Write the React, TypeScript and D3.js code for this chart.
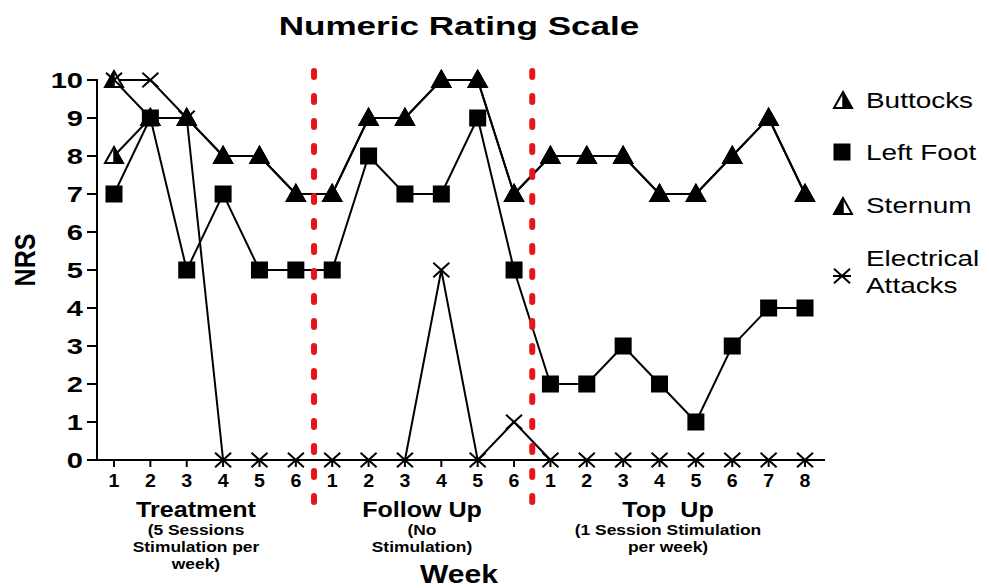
import React from "react";
import * as d3 from "d3";

const weekLabels = ["1","2","3","4","5","6","1","2","3","4","5","6","1","2","3","4","5","6","7","8"];
const buttocks = [8,9,9,8,8,7, 7,9,9,10,10,7, 8,8,8,7,7,8,9,7];
const sternum = [10,9,9,8,8,7, 7,9,9,10,10,7, 8,8,8,7,7,8,9,7];
const leftFoot = [7,9,5,7,5,5, 5,8,7,7,9,5, 2,2,3,2,1,3,4,4];
const electrical = [10,10,9,0,0,0, 0,0,0,5,0,1, 0,0,0,0,0,0,0,0];
const yTicks = [0,1,2,3,4,5,6,7,8,9,10];
const phaseBreaks = [5.5, 11.5];
const phaseTitles = ["Treatment", "Follow Up", "Top  Up"];
const phaseSubs = [["(5 Sessions", "Stimulation per", "week)"], ["(No", "Stimulation)"], ["(1 Session Stimulation", "per week)"]];
const legendNames = [["Buttocks"], ["Left Foot"], ["Sternum"], ["Electrical", "Attacks"]];

const FONT = "'Liberation Sans', Arial, Helvetica, sans-serif";

const x = d3.scaleLinear().domain([0, 19]).range([114, 805]);
const y = d3.scaleLinear().domain([0, 10]).range([460, 80]);

function T({ x, y, size, sx = 1.2, anchor = "middle", rotate = 0, weight = "bold", children }: any) {
  return (
    <text
      transform={`translate(${x},${y}) scale(${sx},1)${rotate ? ` rotate(${rotate})` : ""}`}
      fontFamily={FONT}
      fontWeight={weight}
      fontSize={size}
      textAnchor={anchor}
      fill="#000"
      style={{ whiteSpace: "pre" }}
    >
      {children}
    </text>
  );
}

const TW = 9, TTOP = -9, TBOT = 7;
function triFull(cx: number, cy: number) {
  return `${cx},${cy + TTOP} ${cx - TW},${cy + TBOT} ${cx + TW},${cy + TBOT}`;
}
function triHalf(cx: number, cy: number, half: "left" | "right") {
  return half === "right"
    ? `${cx},${cy + TTOP} ${cx},${cy + TBOT} ${cx + TW},${cy + TBOT}`
    : `${cx},${cy + TTOP} ${cx - TW},${cy + TBOT} ${cx},${cy + TBOT}`;
}
function TriBase({ cx, cy }: { cx: number; cy: number }) {
  return <polygon points={triFull(cx, cy)} fill="#fff" stroke="#000" strokeWidth={2} />;
}
function TriHalf({ cx, cy, half }: { cx: number; cy: number; half: "left" | "right" }) {
  return <polygon points={triHalf(cx, cy, half)} fill="#000" stroke="#000" strokeWidth={1.5} strokeLinejoin="round" />;
}

function Sq({ cx, cy }: { cx: number; cy: number }) {
  return <rect x={cx - 8.5} y={cy - 8.5} width={17} height={17} fill="#000" />;
}

function Cross({ cx, cy }: { cx: number; cy: number }) {
  const s = 8;
  return (
    <g stroke="#000" strokeWidth={2}>
      <line x1={cx - s} y1={cy - s * 0.9} x2={cx + s} y2={cy + s * 0.9} />
      <line x1={cx - s} y1={cy + s * 0.9} x2={cx + s} y2={cy - s * 0.9} />
    </g>
  );
}

const line = d3.line<number>().x((_, i) => x(i)).y((d) => y(d));

export default function App() {
  const phaseCenters = [196, 422, 668];
  return (
    <svg width={989} height={588} style={{ position: "absolute", left: 0, top: 0, background: "#fff" }}>
      <rect width={989} height={588} fill="#fff" />
      <T x={459} y={35} size={26} sx={1.35}>Numeric Rating Scale</T>

      {/* Y axis */}
      <line x1={97} x2={97} y1={y(10) - 1} y2={y(0) + 1} stroke="#000" strokeWidth={2} />
      {yTicks.map((t) => (
        <g key={t}>
          <line x1={87} x2={97} y1={y(t)} y2={y(t)} stroke="#000" strokeWidth={2} />
          <T x={83} y={y(t) + 8} size={22} sx={1.32} anchor="end">{String(t)}</T>
        </g>
      ))}
      <T x={35} y={260} size={25} sx={1.2} rotate={-90}>NRS</T>

      {/* X axis */}
      <line x1={96} x2={825} y1={y(0)} y2={y(0)} stroke="#000" strokeWidth={2} />
      {weekLabels.map((w, i) => (
        <g key={i}>
          <line x1={x(i)} x2={x(i)} y1={y(0)} y2={y(0) + 7} stroke="#000" strokeWidth={2} />
          <T x={x(i)} y={487} size={17.5} sx={1.12}>{w}</T>
        </g>
      ))}

      {phaseTitles.map((p, i) => (
        <g key={p}>
          <T x={phaseCenters[i]} y={517} size={22} sx={1.14}>{p}</T>
          {phaseSubs[i].map((s, j) => (
            <T key={j} x={phaseCenters[i]} y={535 + j * 17} size={15} sx={1.16}>{s}</T>
          ))}
        </g>
      ))}
      <T x={459} y={583} size={25} sx={1.2}>Week</T>

      {/* Lines */}
      {[buttocks, sternum, leftFoot, electrical].map((s, k) => (
        <path key={k} d={line(s) || ""} fill="none" stroke="#000" strokeWidth={2} />
      ))}

      {/* Markers */}
      {buttocks.map((v, i) => <TriBase key={"bb" + i} cx={x(i)} cy={y(v)} />)}
      {sternum.map((v, i) => <TriBase key={"sb" + i} cx={x(i)} cy={y(v)} />)}
      {buttocks.map((v, i) => <TriHalf key={"bh" + i} cx={x(i)} cy={y(v)} half="right" />)}
      {sternum.map((v, i) => <TriHalf key={"sh" + i} cx={x(i)} cy={y(v)} half="left" />)}
      {leftFoot.map((v, i) => <Sq key={"l" + i} cx={x(i)} cy={y(v)} />)}
      {electrical.map((v, i) => <Cross key={"e" + i} cx={x(i)} cy={y(v)} />)}

      {/* Phase separators */}
      {phaseBreaks.map((b) => (
        <line key={b} x1={x(b)} x2={x(b)} y1={71} y2={516} stroke="#e8141b" strokeWidth={6}
          strokeDasharray="6 19" strokeLinecap="round" />
      ))}

      {/* Legend */}
      <TriBase cx={843} cy={101} />
      <TriHalf cx={843} cy={101} half="right" />
      <Sq cx={842} cy={152} />
      <TriBase cx={843} cy={207} />
      <TriHalf cx={843} cy={207} half="left" />
      <Cross cx={842} cy={276} />
      <line x1={833} x2={851} y1={276} y2={276} stroke="#000" strokeWidth={2} />
      <T x={866} y={108} size={22} sx={1.27} anchor="start" weight="normal">{legendNames[0][0]}</T>
      <T x={866} y={160} size={22} sx={1.27} anchor="start" weight="normal">{legendNames[1][0]}</T>
      <T x={866} y={213} size={22} sx={1.27} anchor="start" weight="normal">{legendNames[2][0]}</T>
      <T x={866} y={266} size={22} sx={1.27} anchor="start" weight="normal">{legendNames[3][0]}</T>
      <T x={866} y={293} size={22} sx={1.27} anchor="start" weight="normal">{legendNames[3][1]}</T>
    </svg>
  );
}
